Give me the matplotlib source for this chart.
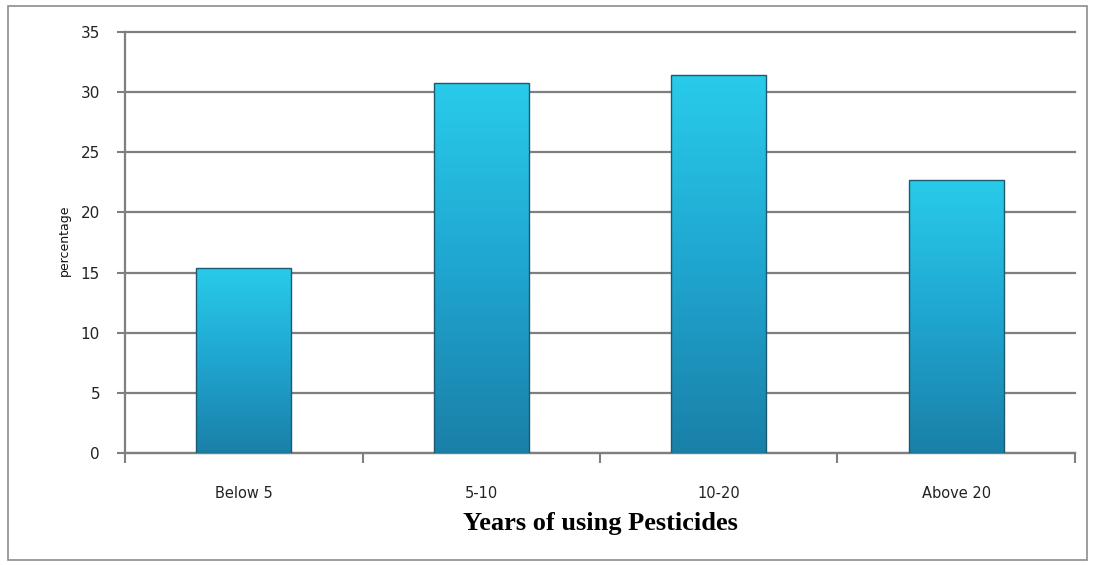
import numpy as np
import matplotlib.pyplot as plt
from matplotlib.patches import Rectangle

categories = ['Below 5', '5-10', '10-20', 'Above 20']
percentage = [15.4, 30.8, 31.4, 22.7]

fig = plt.figure(figsize=(10.94, 5.65), dpi=100)
ax = fig.add_axes([0.1143, 0.1982, 0.8683, 0.7452])

# outer frame round the whole chart
fig.patches.append(Rectangle((0.007, 0.009), 0.987, 0.981, transform=fig.transFigure,
                             fill=False, edgecolor='#8c8c8c', linewidth=1.2))

x = np.arange(len(categories))
width = 0.4
grad = np.linspace(0, 1, 256).reshape(-1, 1)
cmap = plt.matplotlib.colors.LinearSegmentedColormap.from_list(
    'bar', ['#1a80a8', '#1fa6d0', '#29cbea'])

for xi, val in zip(x, percentage):
    bar = ax.bar(xi, val, width=width, color='none', edgecolor='#1d5a70',
                 linewidth=1.0, zorder=4)[0]
    im = ax.imshow(grad, cmap=cmap, aspect='auto', origin='lower',
                   extent=(xi - width / 2, xi + width / 2, 0, val), zorder=3)
    im.set_clip_path(bar)

ax.set_xlim(-0.5, len(categories) - 0.5)
ax.set_ylim(0, 35)
ax.set_yticks(range(0, 36, 5))
ax.yaxis.grid(True, color='#7f7f7f', linewidth=1.6)
ax.set_axisbelow(True)
for gl in ax.yaxis.get_gridlines():
    gl.set_clip_on(False)

ax.set_xticks(x)
ax.set_xticklabels(categories, fontsize=10.5, family='DejaVu Sans', color='#222222')
ax.set_xticks(np.arange(-0.5, len(categories)), minor=True)
ax.tick_params(axis='x', which='major', length=0, pad=24)
ax.tick_params(axis='x', which='minor', length=7, width=1.5, color='#7f7f7f')
ax.tick_params(axis='y', length=6, width=1.5, color='#7f7f7f', labelsize=11,
               labelcolor='#222222', pad=12)

for side in ['top', 'right']:
    ax.spines[side].set_visible(False)
for side in ['left', 'bottom']:
    ax.spines[side].set_color('#7f7f7f')
    ax.spines[side].set_linewidth(1.6)

ax.set_xlabel('Years of using Pesticides', fontsize=19, fontweight='bold',
              family='Liberation Serif', labelpad=8)
fig.text(0.059, 0.575, 'percentage', rotation=90, fontsize=9,
         ha='center', va='center', color='#111111')

fig.savefig('out.png', dpi=100)
